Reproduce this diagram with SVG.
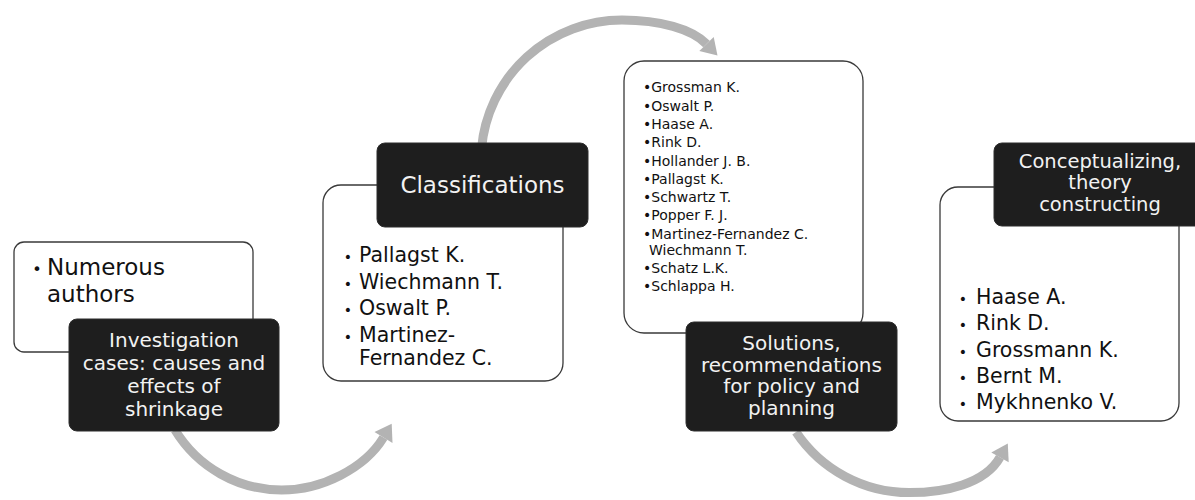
<svg xmlns="http://www.w3.org/2000/svg" width="1195" height="500" viewBox="0 0 1195 500">
<style>
.wbox{fill:#ffffff;stroke:#3a3a3a;stroke-width:1.3}
.dbox{fill:#1e1e1e;stroke:#2c2c2c;stroke-width:1}
.dt{font-family:"DejaVu Sans",Verdana,sans-serif;font-size:20px;fill:#f2f2f2;text-anchor:middle}
.lt{font-family:"DejaVu Sans",Verdana,sans-serif;font-size:20.5px;fill:#111}
.st{font-family:"DejaVu Sans",Verdana,sans-serif;font-size:14px;fill:#111}
.bul{font-size:14px;text-anchor:middle}
.arc{fill:none;stroke:#b3b3b3;stroke-width:9}
.head{fill:#b3b3b3}
</style>
<rect width="1195" height="500" fill="#ffffff"/>
<g id="connectors">
<path class="arc" d="M175,430 A125,125 0 0,0 281.7,490 C322,490 365,468 383.5,437.5"/>
<polygon class="head" points="392.5,442.9 374.5,432.1 391.7,423.8"/>
<path class="arc" d="M481.5,148.7 A141,141 0 0,1 622,20 C660,20 692,29 706.5,44"/>
<polygon class="head" points="713.7,37.1 699.3,50.9 717.5,55.5"/>
<path class="arc" d="M796,432 A136.4,136.4 0 0,0 909.3,492.6 C945,492.6 985,484 1000,457.3"/>
<polygon class="head" points="1008.7,462.2 991.3,452.4 1007.8,443.4"/>
</g>
<g id="node-investigation">
<rect class="wbox" x="14" y="242" width="239" height="110" rx="10"/>
<text class="lt" style="font-size:23px"><tspan class="bul" x="37" y="275" style="font-size:16px">•</tspan><tspan x="47" y="275">Numerous</tspan><tspan x="47" y="302">authors</tspan></text>
<rect class="dbox" x="69" y="319" width="210" height="112" rx="8"/>
<text class="dt"><tspan x="174" y="347">Investigation</tspan><tspan x="174" y="370">cases: causes and</tspan><tspan x="174" y="393">effects of</tspan><tspan x="174" y="416">shrinkage</tspan></text>
</g>
<g id="node-classifications">
<rect class="wbox" x="323" y="185" width="240" height="196" rx="18"/>
<rect class="dbox" x="377" y="143" width="211" height="84" rx="8"/>
<text class="dt" x="482.5" y="193" style="font-size:23px">Classifications</text>
<text class="lt"><tspan class="bul" x="348" y="262">•</tspan><tspan x="359" y="262">Pallagst K.</tspan><tspan class="bul" x="348" y="288.5">•</tspan><tspan x="359" y="288.5">Wiechmann T.</tspan><tspan class="bul" x="348" y="315">•</tspan><tspan x="359" y="315">Oswalt P.</tspan><tspan class="bul" x="348" y="341.7">•</tspan><tspan x="359" y="341.7">Martinez-</tspan><tspan x="359" y="365">Fernandez C.</tspan></text>
</g>
<g id="node-solutions">
<rect class="wbox" x="624" y="61" width="239" height="272" rx="20"/>
<text class="st"><tspan x="643" y="92.3">•Grossman K.</tspan><tspan x="643" y="110.6">•Oswalt P.</tspan><tspan x="643" y="128.9">•Haase A.</tspan><tspan x="643" y="147.2">•Rink D.</tspan><tspan x="643" y="165.5">•Hollander J. B.</tspan><tspan x="643" y="183.8">•Pallagst K.</tspan><tspan x="643" y="202.1">•Schwartz T.</tspan><tspan x="643" y="220.4">•Popper F. J.</tspan><tspan x="643" y="238.7">•Martinez-Fernandez C.</tspan><tspan x="649" y="254.5">Wiechmann T.</tspan><tspan x="643" y="272.5">•Schatz L.K.</tspan><tspan x="643" y="290.8">•Schlappa H.</tspan></text>
<rect class="dbox" x="686" y="322" width="211" height="109" rx="8"/>
<text class="dt"><tspan x="791.5" y="350">Solutions,</tspan><tspan x="791.5" y="371.7">recommendations</tspan><tspan x="791.5" y="393.3">for policy and</tspan><tspan x="791.5" y="415">planning</tspan></text>
</g>
<g id="node-conceptualizing">
<rect class="wbox" x="940" y="187" width="239" height="234" rx="18"/>
<rect class="dbox" x="994" y="143" width="212" height="83" rx="8"/>
<text class="dt" style="font-size:19.5px"><tspan x="1100" y="167.5">Conceptualizing,</tspan><tspan x="1100" y="189">theory</tspan><tspan x="1100" y="210.5">constructing</tspan></text>
<text class="lt"><tspan class="bul" x="963" y="303.5">•</tspan><tspan x="976" y="303.5">Haase A.</tspan><tspan class="bul" x="963" y="330">•</tspan><tspan x="976" y="330">Rink D.</tspan><tspan class="bul" x="963" y="356.5">•</tspan><tspan x="976" y="356.5">Grossmann K.</tspan><tspan class="bul" x="963" y="383">•</tspan><tspan x="976" y="383">Bernt M.</tspan><tspan class="bul" x="963" y="409">•</tspan><tspan x="976" y="409">Mykhnenko V.</tspan></text>
</g>
</svg>
